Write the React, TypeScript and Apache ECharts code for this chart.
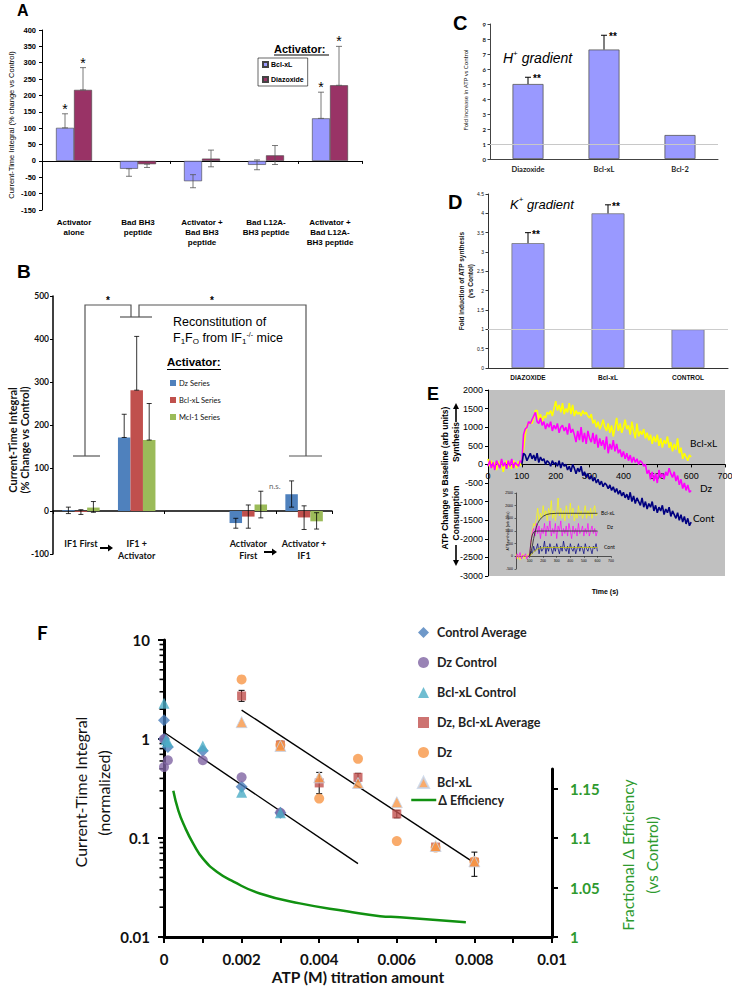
import React, { useEffect, useRef } from "react";
import * as echarts from "echarts";

const ARIAL = "'Liberation Sans', Arial, sans-serif";
const CALI = "Lato, 'Open Sans', sans-serif";

// ---------------- Panel A ----------------
const aCategories = ["Activator\nalone", "Bad BH3\npeptide", "Activator +\nBad BH3\npeptide", "Bad L12A-\nBH3 peptide", "Activator +\nBad L12A-\nBH3 peptide"];
const aBclxl = [101, -24, -62, -12, 130];
const aBclxlLow = [101, -47, -82, -27, 130];
const aBclxlHigh = [144, -24, -42, 3, 210];
const aBclxlStar = ["*", "", "", "", "*"];
const aDiazoxide = [217, -10, 7, 17, 231];
const aDiazoxideLow = [217, -20, -18, -11, 231];
const aDiazoxideHigh = [285, -10, 33, 47, 350];
const aDiazoxideStar = ["*", "", "", "", "*"];
const aYTicks = { min: -150, max: 400, interval: 50 };

// ---------------- Panel B ----------------
const bCategories = ["IF1 First", "IF1 +\nActivator", "", "Activator\nFirst", "Activator +\nIF1"];
const bDz = [2, 171, null, -28, 39];
const bDzLow = [-6, 171, null, -40, 9];
const bDzHigh = [9, 225, null, -17, 70];
const bBcl = [-2, 281, null, -13, -15];
const bBclLow = [-8, 281, null, -40, -43];
const bBclHigh = [3, 406, null, 14, 12];
const bMcl = [8, 165, null, 15, -24];
const bMclLow = [-3, 165, null, -16, -42];
const bMclHigh = [22, 250, null, 46, -4];

// ---------------- Panel C ----------------
const cCategories = ["Diazoxide", "Bcl-xL", "Bcl-2"];
const cValues = [5.0, 7.3, 1.6];
const cHigh = [5.45, 8.25, 1.6];
const cStars = ["**", "**", ""];

// ---------------- Panel D ----------------
const dCategories = ["DIAZOXIDE", "Bcl-xL", "CONTROL"];
const dValues = [3.23, 4.0, 1.0];
const dHigh = [3.5, 4.22, 1.0];
const dStars = ["**", "**", ""];

// ---------------- Panel E ----------------
const eYRange = { min: -3000, max: 2000, interval: 500 };
const eInsetYRange = { min: -500, max: 2500, interval: 500 };
const eTimes = Array.from({ length: 121 }, (_, i) => i * 5);
const eContTimes = eTimes.slice(20);
const eBclxl = [
  150, -50, 100, -100, 50, -150, 80, -50, 120, -200, 0, 100, -80, 50, -120, 100, 30, -100, 80, -30, 50,
  400, 800, 1050, 1100, 1150, 1100, 1250, 1450, 1450, 1200, 1350, 1150, 1300, 1250, 1400, 1350, 1450, 1300, 1500, 1700,
  1450, 1600, 1400, 1650, 1350, 1500, 1400, 1650, 1350, 1600, 1300, 1450, 1350, 1400, 1300, 1450, 1350, 1400, 1300, 1250,
  1350, 1100, 1200, 1000, 1150, 950, 1050, 1200, 1000, 900, 1100, 850, 1050, 750, 1000, 1250, 900, 1100, 850, 1000,
  1200, 950, 1050, 800, 1150, 900, 700, 1100, 750, 900, 800, 950, 700, 850, 650, 800, 550, 750, 600, 800,
  500, 700, 450, 650, 550, 750, 450, 600, 350, 550, 400, 700, 300, 450, 150, 300, 200, 100, 250, 200,
];
const eDz = [
  -50, 100, -100, 50, -150, 100, 0, -100, 150, -50, 50, -120, 100, -50, 150, -100, 50, 0, -50, 100, 50,
  800, 950, 1000, 1150, 1100, 1200, 1300, 1400, 1150, 1100, 1250, 1050, 1150, 950, 1100, 1000, 1150, 900, 1050, 950,
  1100, 850, 1000, 1050, 900, 1000, 800, 1100, 850, 950, 800, 600, 900, 650, 1000, 600, 850, 550, 900, 700,
  600, 850, 550, 800, 450, 700, 500, 650, 400, 750, 300, 550, 400, 650, 350, 550, 300, 400, 200, 350,
  150, 300, 100, 250, 50, 200, 50, 150, 0, 100, 50, -50, 0, -250, -150, -400, -200, -450, -250, -500,
  -150, -350, -250, -400, -200, -300, -100, -250, -350, -200, -450, -300, -550, -400, -650, -500, -700, -550, -750, -700,
];
const eCont = [
  0, 300, 250, 100, 200, 300, 150, 250, 100, 300, 50, 200, 100, 150, 0, 100, 50, -50, 100, 0, 50,
  -50, 100, -100, 50, -50, 0, -150, -50, -200, 0, -100, -250, -100, -200, -50, -300, -200, -350, -250, -400,
  -300, -450, -350, -500, -400, -550, -450, -600, -500, -550, -650, -550, -700, -600, -750, -650, -800, -700, -850, -750,
  -900, -800, -950, -750, -1000, -850, -1050, -900, -1000, -1100, -900, -1150, -1000, -1200, -1050, -1150, -1000, -1250, -1100, -1300,
  -1150, -1250, -1100, -1350, -1200, -1300, -1150, -1400, -1250, -1350, -1450, -1300, -1500, -1350, -1550, -1400, -1600, -1450, -1650, -1550,
];
// inset
const iTimes = Array.from({ length: 61 }, (_, i) => i * 10);
const iContTimes = iTimes.slice(10);
const iBclxl = [
  100, -100, 50, -150, 0, 100, -100, 50, -50, 100, 0,
  500, 1000, 1300, 1200, 1500, 1900, 1400, 1700, 1500, 2000,
  1600, 1800, 1400, 1900, 1600, 2200, 1500, 1800, 1400, 1700,
  2300, 1600, 1900, 1500, 1800, 1400, 2000, 1700, 1500, 2100,
  1600, 1900, 1400, 1700, 1500, 2000, 1600, 1800, 1500, 1700,
  2000, 1500, 1800, 1600, 1900, 1500, 1800, 2000, 1600, 1700,
];
const iDz = [
  -100, 100, -50, 150, -100, 50, 0, 100, -100, 50, 0,
  600, 900, 1100, 800, 1300, 900, 1200, 700, 1100, 900,
  1300, 800, 1200, 1000, 1400, 800, 1100, 900, 1300, 700,
  1200, 1000, 1400, 800, 1100, 900, 1200, 800, 1300, 1000,
  700, 1200, 900, 1100, 800, 1300, 900, 1000, 1200, 800,
  1100, 900, 1300, 800, 1000, 1200, 900, 1100, 800, 1000,
];
const iCont = [
  0,
  200, 100, 400, 200, 300, 500, 100, 400, 200, 300,
  600, 100, 400, 200, 500, 300, 100, 400, 200, 500,
  300, 100, 400, 200, 600, 300, 200, 400, 100, 500,
  300, 200, 400, 100, 300, 500, 200, 400, 300, 100,
  500, 300, 200, 400, 300, 100, 400, 300, 500, 200,
];
const iFitBclX = [100, 110, 120, 130, 140, 150, 160, 175, 200, 225, 250, 300, 400, 600];
const iFitBclY = [0, 150, 400, 700, 950, 1150, 1300, 1450, 1580, 1650, 1680, 1700, 1700, 1700];
const iFitDzX = [100, 105, 110, 115, 120, 130, 140, 150, 175, 600];
const iFitDzY = [0, 300, 550, 720, 840, 950, 985, 995, 1000, 1000];
const iFitContX = [100, 120, 140, 160, 180, 200, 250, 600];
const iFitContY = [0, 120, 220, 290, 330, 345, 350, 350];

// ---------------- Panel F ----------------
const fCtrlAvgX = [0, 0, 0.0001, 0.001, 0.002, 0.003];
const fCtrlAvgY = [1.55, 1.0, 0.83, 0.76, 0.33, 0.18];
const fDzCtrlX = [0, 0, 0.0001, 0.001, 0.002, 0.003];
const fDzCtrlY = [1.0, 0.52, 0.61, 0.61, 0.41, 0.18];
const fBclCtrlX = [0, 0.00005, 0.0001, 0.001, 0.002, 0.003];
const fBclCtrlY = [2.3, 0.98, 0.93, 0.85, 0.29, 0.18];
const fTreatX = [0.002, 0.003, 0.004, 0.005, 0.006, 0.007, 0.008];
const fAvgY = [2.72, 0.87, 0.36, 0.41, 0.175, 0.081, 0.057];
const fAvgLow = [2.4, 0.8, 0.28, 0.37, 0.16, 0.078, 0.041];
const fAvgHigh = [3.1, 0.95, 0.46, 0.45, 0.19, 0.085, 0.072];
const fDzY = [4.0, 0.87, 0.25, 0.63, 0.093, 0.08, 0.058];
const fBclY = [1.48, 0.85, 0.41, 0.36, 0.23, 0.083, 0.058];
const fFit1X = [0, 0.005];
const fFit1Y = [1.17, 0.055];
const fFit2X = [0.002, 0.008];
const fFit2Y = [1.96, 0.056];
const fEffX = [0.00024, 0.00037, 0.00054, 0.00076, 0.00101, 0.00136, 0.00179, 0.00247, 0.0035, 0.00471, 0.00557, 0.00608, 0.00778];
const fEffY = [1.148, 1.128, 1.111, 1.094, 1.079, 1.066, 1.056, 1.044, 1.034, 1.026, 1.021, 1.02, 1.015];
const fRightTicks = [1, 1.05, 1.1, 1.15];
const fMinorTicks = [0.02, 0.03, 0.04, 0.05, 0.06, 0.07, 0.08, 0.09, 0.2, 0.3, 0.4, 0.5, 0.6, 0.7, 0.8, 0.9, 2, 3, 4, 5, 6, 7, 8, 9];
const fLegendLabels: Record<string, string> = {
  fCtrlAvg: "Control Average",
  fDzCtrl: "Dz Control",
  fBclCtrl: "Bcl-xL Control",
  fAvg: "Dz, Bcl-xL Average",
  fDz: "Dz",
  fBcl: "Bcl-xL",
  fEff: "Δ Efficiency",
};

const pairs = (xs: number[], ys: number[]) => xs.map((x, i) => [x, ys[i]]);

function errorSeries(o: any) {
  return {
    type: "custom",
    xAxisIndex: o.x,
    yAxisIndex: o.y,
    silent: true,
    z: 5,
    clip: false,
    encode: { x: 0, y: 2 },
    data: o.rows,
    renderItem: (params: any, api: any) => {
      const cat = api.value(0);
      const si = api.value(1);
      const v = api.value(2);
      const lo = api.value(3);
      const hi = api.value(4);
      const base = api.coord([cat, v]);
      const x = base[0] + o.offsets[si];
      const yLo = api.coord([cat, lo])[1];
      const yHi = api.coord([cat, hi])[1];
      const st = { stroke: o.color, lineWidth: o.width };
      const ch: any[] = [];
      if (hi !== lo) {
        ch.push({ type: "line", shape: { x1: x, y1: yLo, x2: x, y2: yHi }, style: st });
        ch.push({ type: "line", shape: { x1: x - o.cap, y1: yHi, x2: x + o.cap, y2: yHi }, style: st });
        if (o.capLow) ch.push({ type: "line", shape: { x1: x - o.cap, y1: yLo, x2: x + o.cap, y2: yLo }, style: st });
      }
      const s = o.stars ? o.stars[params.dataIndex] : "";
      if (s) {
        ch.push({
          type: "text",
          x: x + o.starDx,
          y: yHi + o.starDy,
          style: { text: s, fill: "#000", ...o.starStyle },
        });
      }
      return { type: "group", children: ch };
    },
  };
}

function T(x: number, y: number, text: string, s: any = {}, rot = 0) {
  return {
    type: "text",
    x,
    y,
    rotation: rot,
    silent: true,
    style: {
      text,
      fill: s.fill || "#000",
      fontSize: s.fontSize || 10,
      fontFamily: s.fontFamily || ARIAL,
      fontWeight: s.fontWeight || "normal",
      fontStyle: s.fontStyle || "normal",
      align: s.align || "left",
      textAlign: s.align || "left",
      verticalAlign: "middle",
      textVerticalAlign: "middle",
    },
  };
}
function L(pts: number[][], color = "#000", w = 1) {
  return { type: "polyline", silent: true, shape: { points: pts }, style: { stroke: color, lineWidth: w, fill: null } };
}
function arrowH(x1: number, x2: number, y: number) {
  return [
    L([[x1, y], [x2 - 4, y]], "#000", 2),
    { type: "polygon", silent: true, shape: { points: [[x2 - 5, y - 3.5], [x2, y], [x2 - 5, y + 3.5]] }, style: { fill: "#000" } },
  ];
}
function arrowV(x: number, y1: number, y2: number) {
  const dir = y2 > y1 ? 1 : -1;
  return [
    L([[x, y1], [x, y2 - dir * 4]], "#000", 1.6),
    { type: "polygon", silent: true, shape: { points: [[x - 3, y2 - dir * 6], [x, y2], [x + 3, y2 - dir * 6]] }, style: { fill: "#000" } },
  ];
}

function buildOption() {
  const NB = { outerBoundsMode: "none", containLabel: false };
  // E grid geometry and its zero level (derived from the axis range)
  const eG = { left: 488, top: 390, width: 237, height: 186 };
  const eZeroY = eG.top + (eG.height * eYRange.max) / (eYRange.max - eYRange.min);
  const iG = { left: 516, top: 493, width: 95, height: 76 };
  const iZeroY = iG.top + (iG.height * eInsetYRange.max) / (eInsetYRange.max - eInsetYRange.min);
  const grid = [
    { left: 42, top: 30, width: 320, height: 180, ...NB },
    { left: 53, top: 296, width: 279, height: 258, ...NB },
    { left: 53, top: 530, width: 279, height: 4, ...NB },
    { left: 490, top: 24, width: 228, height: 135, ...NB },
    { left: 488, top: 194, width: 240, height: 174, ...NB },
    { ...eG, show: true, backgroundColor: "#C0C0C0", borderWidth: 0, borderColor: "transparent", ...NB },
    { ...iG, ...NB },
    { left: 164, top: 640, width: 388, height: 297, ...NB },
    { left: 164, top: 769, width: 388, height: 168, ...NB },
    // 9: E zero-line axis strip, 10: inset zero-line axis strip
    { left: eG.left, top: eZeroY - 10, width: eG.width, height: 10, ...NB },
    { left: iG.left, top: iZeroY - 5, width: iG.width, height: 5, ...NB },
  ];
  const noSplit = { splitLine: { show: false } };
  const xAxis: any[] = [
    { gridIndex: 0, type: "category", data: aCategories, position: "bottom", axisLine: { onZero: true, lineStyle: { color: "#000", width: 1 } }, axisTick: { show: true, length: 3, lineStyle: { color: "#000" } }, axisLabel: { show: false }, ...noSplit },
    { gridIndex: 0, type: "category", data: aCategories, position: "bottom", axisLine: { show: false, onZero: false }, axisTick: { show: false }, axisLabel: { interval: 0, fontSize: 8, fontWeight: "bold", fontFamily: ARIAL, color: "#000", lineHeight: 10, margin: 7 }, ...noSplit },
    { gridIndex: 1, type: "category", data: bCategories, position: "bottom", axisLine: { onZero: true, lineStyle: { color: "#000", width: 1.5 } }, axisTick: { show: true, length: 3, lineStyle: { color: "#000" } }, axisLabel: { show: false }, ...noSplit },
    { gridIndex: 2, type: "category", data: bCategories, position: "bottom", axisLine: { show: false, onZero: false }, axisTick: { show: false }, axisLabel: { interval: 0, fontSize: 9, fontWeight: "bold", fontFamily: CALI, color: "#111", lineHeight: 12, margin: 3 }, ...noSplit },
    { gridIndex: 3, type: "category", data: cCategories, axisLine: { lineStyle: { color: "#444", width: 1 } }, axisTick: { length: 3, lineStyle: { color: "#444" } }, axisLabel: { interval: 0, fontSize: 7.5, fontWeight: "bold", fontFamily: CALI, color: "#222", margin: 6 }, ...noSplit },
    { gridIndex: 4, type: "category", data: dCategories, axisLine: { lineStyle: { color: "#333", width: 1 } }, axisTick: { length: 3, lineStyle: { color: "#333" } }, axisLabel: { interval: 0, fontSize: 6.5, fontWeight: "bold", fontFamily: ARIAL, color: "#111", margin: 6 }, ...noSplit },
    // 6: E data x axis (hidden)
    { gridIndex: 5, type: "value", min: 0, max: 700, interval: 100, show: false, axisLine: { onZero: false }, ...noSplit },
    // 7: inset data x axis (hidden)
    { gridIndex: 6, type: "value", min: 0, max: 700, interval: 100, show: false, axisLine: { onZero: false }, ...noSplit },
    { gridIndex: 7, type: "value", min: 0, max: 0.01, interval: 0.002, axisLine: { onZero: false, lineStyle: { color: "#000", width: 3 } }, axisTick: { length: 6, lineStyle: { color: "#000", width: 2 } }, minorTick: { show: true, splitNumber: 2, length: 6, lineStyle: { color: "#000", width: 2 } }, axisLabel: { fontSize: 15, fontWeight: "bold", fontFamily: CALI, color: "#111", margin: 14, formatter: (v: number) => String(+v.toFixed(4)) }, ...noSplit, minorSplitLine: { show: false } },
    { gridIndex: 8, type: "value", min: 0, max: 0.01, show: false, axisLine: { onZero: false }, ...noSplit },
    // 10: E zero-line axis with labels
    { gridIndex: 9, type: "value", min: 0, max: 700, interval: 100, position: "bottom", axisLine: { onZero: false, lineStyle: { color: "#000", width: 1.2 } }, axisTick: { length: 3, lineStyle: { color: "#000" } }, axisLabel: { fontSize: 9, fontFamily: ARIAL, color: "#000", margin: 7, formatter: (v: number) => String(v) }, ...noSplit },
    // 11: inset zero-line axis with labels
    { gridIndex: 10, type: "value", min: 0, max: 700, interval: 100, position: "bottom", axisLine: { onZero: false, lineStyle: { color: "#000", width: 0.6 } }, axisTick: { length: 1.5, lineStyle: { color: "#000", width: 0.5 } }, axisLabel: { fontSize: 3.5, fontFamily: ARIAL, color: "#000", margin: 3, formatter: (v: number) => (v === 0 ? "" : String(v)) }, ...noSplit },
  ];
  const yAxis: any[] = [
    { gridIndex: 0, type: "value", ...aYTicks, axisLine: { show: true, onZero: false, lineStyle: { color: "#000", width: 1 } }, axisTick: { show: true, length: 3, lineStyle: { color: "#000" } }, axisLabel: { fontSize: 7.5, fontWeight: "bold", fontFamily: ARIAL, color: "#000", margin: 6 }, ...noSplit },
    { gridIndex: 1, type: "value", min: -100, max: 500, interval: 100, axisLine: { show: true, onZero: false, lineStyle: { color: "#000", width: 1.5 } }, axisTick: { show: true, length: 3, lineStyle: { color: "#000" } }, axisLabel: { fontSize: 8.5, fontWeight: "bold", fontFamily: CALI, color: "#111", margin: 4 }, ...noSplit },
    { gridIndex: 2, type: "value", min: 0, max: 1, show: false, axisLine: { onZero: false }, ...noSplit },
    { gridIndex: 3, type: "value", min: 0, max: 9, interval: 1, axisLine: { show: true, onZero: false, lineStyle: { color: "#444" } }, axisTick: { show: true, length: 2.5, lineStyle: { color: "#444" } }, axisLabel: { fontSize: 6, fontWeight: "bold", fontFamily: CALI, color: "#222", margin: 4 }, ...noSplit },
    { gridIndex: 4, type: "value", min: 0, max: 4.5, interval: 0.5, axisLine: { show: true, onZero: false, lineStyle: { color: "#333" } }, axisTick: { show: true, length: 2.5, lineStyle: { color: "#333" } }, axisLabel: { fontSize: 5, fontFamily: ARIAL, color: "#111", margin: 4 }, ...noSplit },
    { gridIndex: 5, type: "value", ...eYRange, axisLine: { show: true, onZero: false, lineStyle: { color: "#000", width: 1 } }, axisTick: { show: true, length: 3, lineStyle: { color: "#000" } }, axisLabel: { fontSize: 9, fontFamily: ARIAL, color: "#000", margin: 5, formatter: (v: number) => String(v) }, ...noSplit },
    { gridIndex: 6, type: "value", ...eInsetYRange, axisLine: { show: true, onZero: false, lineStyle: { color: "#000", width: 0.6 } }, axisTick: { show: true, length: 1.5, lineStyle: { color: "#000", width: 0.5 } }, axisLabel: { fontSize: 3.5, fontFamily: ARIAL, color: "#000", margin: 3, formatter: (v: number) => String(v) }, ...noSplit },
    { gridIndex: 7, type: "log", logBase: 10, min: 0.01, max: 10, axisLine: { show: true, onZero: false, lineStyle: { color: "#000", width: 3 } }, axisTick: { show: true, length: 6, lineStyle: { color: "#000", width: 2 } }, axisLabel: { fontSize: 15, fontWeight: "bold", fontFamily: CALI, color: "#111", margin: 14, formatter: (v: number) => String(+(+v).toPrecision(3)) }, ...noSplit, minorTick: { show: false } },
    { gridIndex: 8, type: "value", position: "right", min: 1, max: 1.17, interval: 0.05, axisLine: { show: true, onZero: false, lineStyle: { color: "#000", width: 3 } }, axisTick: { show: true, length: 6, customValues: fRightTicks, lineStyle: { color: "#000", width: 2 } }, axisLabel: { fontSize: 15, fontWeight: "bold", fontFamily: CALI, color: "#2E9A2E", margin: 18, customValues: fRightTicks, formatter: (v: number) => String(+(+v).toFixed(2)) }, ...noSplit },
    { gridIndex: 9, type: "value", min: 0, max: 1, show: false, axisLine: { onZero: false }, ...noSplit },
    { gridIndex: 10, type: "value", min: 0, max: 1, show: false, axisLine: { onZero: false }, ...noSplit },
  ];

  const aRows: number[][] = [];
  const aStarList: string[] = [];
  aCategories.forEach((_, i) => {
    aRows.push([i, 0, aBclxl[i], aBclxlLow[i], aBclxlHigh[i]]);
    aStarList.push(aBclxlStar[i]);
    aRows.push([i, 1, aDiazoxide[i], aDiazoxideLow[i], aDiazoxideHigh[i]]);
    aStarList.push(aDiazoxideStar[i]);
  });
  const bRows: number[][] = [];
  bCategories.forEach((_, i) => {
    if (bDz[i] !== null) bRows.push([i, 0, bDz[i] as number, bDzLow[i] as number, bDzHigh[i] as number]);
    if (bBcl[i] !== null) bRows.push([i, 1, bBcl[i] as number, bBclLow[i] as number, bBclHigh[i] as number]);
    if (bMcl[i] !== null) bRows.push([i, 2, bMcl[i] as number, bMclLow[i] as number, bMclHigh[i] as number]);
  });
  const cRows = cCategories.map((_, i) => [i, 0, cValues[i], cValues[i], cHigh[i]]);
  const dRows = dCategories.map((_, i) => [i, 0, dValues[i], dValues[i], dHigh[i]]);
  const fRows = fTreatX.map((x, i) => [x, 0, fAvgY[i], fAvgLow[i], fAvgHigh[i]]);

  const barMark = (axisColor: string) => ({
    silent: true,
    symbol: "none",
    label: { show: false },
    lineStyle: { color: axisColor, type: "solid", width: 1 },
    data: [{ yAxis: 1 }],
  });

  const eLine = (name: string, xs: number[], ys: number[], color: string, w: number, xi: number, yi: number) => ({
    type: "line",
    name,
    xAxisIndex: xi,
    yAxisIndex: yi,
    data: pairs(xs, ys),
    symbol: "none",
    silent: true,
    lineStyle: { color, width: w },
    itemStyle: { color },
    z: 3,
  });

  const series: any[] = [
    { type: "bar", name: "Bcl-xL", xAxisIndex: 0, yAxisIndex: 0, data: aBclxl, barWidth: 18, barGap: "0%", itemStyle: { color: "#9999FF", borderColor: "#444", borderWidth: 0.6 } },
    { type: "bar", name: "Diazoxide", xAxisIndex: 0, yAxisIndex: 0, data: aDiazoxide, barWidth: 18, barGap: "0%", itemStyle: { color: "#993366", borderColor: "#444", borderWidth: 0.6 } },
    errorSeries({ x: 0, y: 0, rows: aRows, offsets: [-9, 9], cap: 3, color: "#555", width: 0.8, capLow: true, stars: aStarList, starDx: 0, starDy: -5, starStyle: { fontSize: 14, fontFamily: ARIAL, align: "center", textAlign: "center", verticalAlign: "middle", textVerticalAlign: "middle" } }),
    { type: "bar", name: "Dz Series", xAxisIndex: 2, yAxisIndex: 1, data: bDz, barWidth: 12.5, barGap: "0%", itemStyle: { color: "#4F81BD" } },
    { type: "bar", name: "Bcl-xL Series", xAxisIndex: 2, yAxisIndex: 1, data: bBcl, barWidth: 12.5, barGap: "0%", itemStyle: { color: "#C0504D" } },
    { type: "bar", name: "Mcl-1 Series", xAxisIndex: 2, yAxisIndex: 1, data: bMcl, barWidth: 12.5, barGap: "0%", itemStyle: { color: "#9BBB59" } },
    errorSeries({ x: 2, y: 1, rows: bRows, offsets: [-12.5, 0, 12.5], cap: 2.5, color: "#000", width: 0.8, capLow: true }),
    { type: "bar", name: "C", xAxisIndex: 4, yAxisIndex: 3, data: cValues, barWidth: 31, itemStyle: { color: "#9999FF", borderColor: "#555", borderWidth: 0.8 }, markLine: barMark("#C8C8C8"), z: 2 },
    errorSeries({ x: 4, y: 3, rows: cRows, offsets: [0], cap: 3, color: "#000", width: 1, capLow: false, stars: cStars, starDx: 5, starDy: 1.5, starStyle: { fontSize: 10, fontWeight: "bold", fontFamily: ARIAL, align: "left", textAlign: "left", verticalAlign: "middle", textVerticalAlign: "middle" } }),
    { type: "bar", name: "D", xAxisIndex: 5, yAxisIndex: 4, data: dValues, barWidth: 33, itemStyle: { color: "#9999FF", borderColor: "#777", borderWidth: 0.8 }, markLine: barMark("#CCCCCC"), z: 2 },
    errorSeries({ x: 5, y: 4, rows: dRows, offsets: [0], cap: 3, color: "#000", width: 1, capLow: false, stars: dStars, starDx: 4, starDy: 2, starStyle: { fontSize: 10, fontWeight: "bold", fontFamily: ARIAL, align: "left", textAlign: "left", verticalAlign: "middle", textVerticalAlign: "middle" } }),
    eLine("E Bcl-xL", eTimes, eBclxl, "#FFFF00", 1.6, 6, 5),
    eLine("E Dz", eTimes, eDz, "#FF00FF", 1.6, 6, 5),
    eLine("E Cont", eContTimes, eCont, "#000080", 1.6, 6, 5),
    eLine("I Bcl-xL", iTimes, iBclxl, "#FFFF00", 0.7, 7, 6),
    eLine("I Dz", iTimes, iDz, "#FF00FF", 0.7, 7, 6),
    eLine("I Cont", iContTimes, iCont, "#000080", 0.7, 7, 6),
    eLine("I fit Bcl-xL", iFitBclX, iFitBclY, "#222222", 0.8, 7, 6),
    eLine("I fit Dz", iFitDzX, iFitDzY, "#222222", 0.8, 7, 6),
    eLine("I fit Cont", iFitContX, iFitContY, "#C8C800", 0.8, 7, 6),
    { type: "line", name: "fit1", xAxisIndex: 8, yAxisIndex: 7, data: pairs(fFit1X, fFit1Y), symbol: "none", silent: true, lineStyle: { color: "#000", width: 1.4 }, z: 2 },
    { type: "line", name: "fit2", xAxisIndex: 8, yAxisIndex: 7, data: pairs(fFit2X, fFit2Y), symbol: "none", silent: true, lineStyle: { color: "#000", width: 1.4 }, z: 2 },
    { type: "scatter", name: "fCtrlAvg", xAxisIndex: 8, yAxisIndex: 7, data: pairs(fCtrlAvgX, fCtrlAvgY), symbol: "diamond", symbolSize: 12, itemStyle: { color: "#4A7EBB" }, z: 3 },
    { type: "scatter", name: "fDzCtrl", xAxisIndex: 8, yAxisIndex: 7, data: pairs(fDzCtrlX, fDzCtrlY), symbol: "circle", symbolSize: 10, itemStyle: { color: "#8064A2" }, z: 3 },
    { type: "scatter", name: "fBclCtrl", xAxisIndex: 8, yAxisIndex: 7, data: pairs(fBclCtrlX, fBclCtrlY), symbol: "triangle", symbolSize: 11, itemStyle: { color: "#4BACC6" }, z: 4 },
    errorSeries({ x: 8, y: 7, rows: fRows, offsets: [0], cap: 3, color: "#000", width: 1, capLow: true }),
    { type: "scatter", name: "fAvg", xAxisIndex: 8, yAxisIndex: 7, data: pairs(fTreatX, fAvgY), symbol: "rect", symbolSize: 9, itemStyle: { color: "#C0504D" }, z: 6 },
    { type: "scatter", name: "fDz", xAxisIndex: 8, yAxisIndex: 7, data: pairs(fTreatX, fDzY), symbol: "circle", symbolSize: 10, itemStyle: { color: "#F79646" }, z: 6 },
    { type: "scatter", name: "fBcl", xAxisIndex: 8, yAxisIndex: 7, data: pairs(fTreatX, fBclY), symbol: "triangle", symbolSize: 11, itemStyle: { color: "#F79646", borderColor: "#C6D3E8", borderWidth: 1 }, z: 6 },
    { type: "line", name: "fEff", xAxisIndex: 9, yAxisIndex: 8, data: pairs(fEffX, fEffY), smooth: true, symbol: "none", showSymbol: false, lineStyle: { color: "#119111", width: 2.5 }, itemStyle: { color: "#119111" }, z: 2 },
    {
      type: "custom",
      name: "minor",
      xAxisIndex: 8,
      yAxisIndex: 7,
      silent: true,
      clip: false,
      encode: { x: 0, y: 1 },
      data: fMinorTicks.map((v) => [0, v]),
      renderItem: (params: any, api: any) => {
        const p = api.coord([0, api.value(1)]);
        return { type: "line", shape: { x1: p[0] - 4.5, y1: p[1], x2: p[0], y2: p[1] }, style: { stroke: "#000", lineWidth: 1.6 } };
      },
    },
  ];

  const fLegendText = { fontSize: 12.5, fontWeight: "bold", fontFamily: CALI, color: "#222" };
  const legend = [
    {
      data: ["Bcl-xL", "Diazoxide"],
      orient: "vertical",
      left: 258,
      top: 58,
      padding: [3, 4, 3, 4],
      itemWidth: 5,
      itemHeight: 5,
      itemGap: 8,
      borderColor: "#000",
      borderWidth: 0.6,
      selectedMode: false,
      icon: "rect",
      textStyle: { fontSize: 7, fontWeight: "bold", fontFamily: ARIAL, color: "#000", padding: [0, 0, 0, -2] },
    },
    {
      data: ["Dz Series", "Bcl-xL Series", "Mcl-1 Series"],
      orient: "vertical",
      left: 170,
      top: 379,
      padding: 0,
      itemWidth: 6,
      itemHeight: 6,
      itemGap: 9,
      selectedMode: false,
      icon: "rect",
      textStyle: { fontSize: 7.5, fontFamily: CALI, color: "#111", padding: [0, 0, 0, -2] },
    },
    {
      data: [
        { name: "fCtrlAvg", icon: "diamond" },
        { name: "fDzCtrl", icon: "circle" },
        { name: "fBclCtrl", icon: "triangle" },
        { name: "fAvg", icon: "rect" },
        { name: "fDz", icon: "circle" },
        { name: "fBcl", icon: "triangle" },
      ],
      formatter: (n: string) => fLegendLabels[n] || n,
      orient: "vertical",
      left: 417,
      top: 626,
      padding: 0,
      itemWidth: 11,
      itemHeight: 11,
      itemGap: 17,
      selectedMode: false,
      textStyle: { ...fLegendText, padding: [0, 0, 0, 3] },
    },
    {
      data: [{ name: "fEff" }],
      formatter: (n: string) => fLegendLabels[n] || n,
      orient: "vertical",
      left: 410,
      top: 793.5,
      padding: 0,
      itemWidth: 25,
      itemHeight: 11,
      selectedMode: false,
      itemStyle: { opacity: 0 },
      lineStyle: { color: "#119111", width: 2.5 },
      textStyle: { ...fLegendText, padding: [0, 0, 0, -3] },
    },
  ];

  const green = "#2E9A2E";
  const elements: any[] = [
    T(17, 10.5, "A", { fontSize: 16, fontWeight: "bold" }),
    T(17, 271, "B", { fontSize: 19, fontWeight: "bold" }),
    T(453, 22.5, "C", { fontSize: 20, fontWeight: "bold" }),
    T(448, 202, "D", { fontSize: 20, fontWeight: "bold" }),
    T(427, 393.5, "E", { fontSize: 18, fontWeight: "bold" }),
    T(37, 632, "F", { fontSize: 19, fontWeight: "bold", fontFamily: CALI }),
    T(11, 125, "Current-Time Integral (% change vs Control)", { fontSize: 7.5, align: "center" }, Math.PI / 2),
    T(274, 48.5, "Activator:", { fontSize: 11, fontWeight: "bold" }),
    L([[274, 55], [329, 55]], "#000", 1),
    T(12, 440, "Current-Time Integral", { fontSize: 11, fontWeight: "bold", fontFamily: CALI, align: "center", fill: "#111" }, Math.PI / 2),
    T(24, 440, "(% Change vs Control)", { fontSize: 11, fontWeight: "bold", fontFamily: CALI, align: "center", fill: "#111" }, Math.PI / 2),
    L([[73, 456], [100, 456]], "#555", 1.2),
    L([[85, 456], [85, 305], [131, 305], [131, 317]], "#555", 1.2),
    L([[120, 317], [152, 317]], "#555", 1.2),
    L([[139, 317], [139, 305], [306, 305], [306, 456]], "#555", 1.2),
    L([[289, 456], [322, 456]], "#555", 1.2),
    T(108, 300, "*", { fontSize: 10, fontWeight: "bold", align: "center" }),
    T(212, 300, "*", { fontSize: 10, fontWeight: "bold", align: "center" }),
    T(173, 322, "Reconstitution of", { fontSize: 12.5 }),
    {
      type: "text",
      x: 173,
      y: 338,
      silent: true,
      style: {
        text: "{m|F}{s|1}{m|F}{s|O}{m| from IF}{s|1}{p|-/-}{m| mice}",
        align: "left",
        verticalAlign: "middle",
        textAlign: "left",
        textVerticalAlign: "middle",
        rich: {
          m: { fontSize: 12.5, fontFamily: ARIAL, fill: "#000", color: "#000", lineHeight: 14, verticalAlign: "middle" },
          s: { fontSize: 8, fontFamily: ARIAL, fill: "#000", color: "#000", lineHeight: 6, verticalAlign: "bottom" },
          p: { fontSize: 7, fontFamily: ARIAL, fill: "#000", color: "#000", lineHeight: 5, verticalAlign: "top" },
        },
      },
    },
    T(167, 362, "Activator:", { fontSize: 11.5, fontWeight: "bold" }),
    L([[167, 369.5], [221, 369.5]], "#000", 1),
    T(269, 486, "n.s.", { fontSize: 8, fill: "#666", fontFamily: CALI }),
    ...arrowH(100, 113, 548),
    ...arrowH(264, 277, 552),
    T(465, 90, "Fold increase in ATP vs Control", { fontSize: 6, fontFamily: CALI, align: "center", fill: "#222" }, Math.PI / 2),
    {
      type: "text",
      x: 503,
      y: 58,
      silent: true,
      style: {
        text: "{a|H}{b|+}{a| gradient}",
        align: "left",
        verticalAlign: "middle",
        textAlign: "left",
        textVerticalAlign: "middle",
        rich: {
          a: { fontSize: 14, fontStyle: "italic", fontFamily: ARIAL, fill: "#000", color: "#000", lineHeight: 18, verticalAlign: "middle" },
          b: { fontSize: 8, fontFamily: ARIAL, fill: "#000", color: "#000", lineHeight: 9, verticalAlign: "top" },
        },
      },
    },
    T(461, 281, "Fold induction of ATP synthesis", { fontSize: 6.5, fontWeight: "bold", align: "center", fill: "#111" }, Math.PI / 2),
    T(470, 281, "(vs Contol)", { fontSize: 6.5, fontWeight: "bold", align: "center", fill: "#111" }, Math.PI / 2),
    {
      type: "text",
      x: 510,
      y: 204,
      silent: true,
      style: {
        text: "{a|K}{b|+}{a| gradient}",
        align: "left",
        verticalAlign: "middle",
        textAlign: "left",
        textVerticalAlign: "middle",
        rich: {
          a: { fontSize: 13, fontStyle: "italic", fontFamily: ARIAL, fill: "#000", color: "#000", lineHeight: 17, verticalAlign: "middle" },
          b: { fontSize: 8, fontFamily: ARIAL, fill: "#000", color: "#000", lineHeight: 9, verticalAlign: "top" },
        },
      },
    },
    T(445, 478, "ATP Change vs Baseline (arb units)", { fontSize: 8.5, fontWeight: "bold", align: "center" }, Math.PI / 2),
    T(456, 442, "Synthesis", { fontSize: 8.5, fontWeight: "bold", align: "center" }, Math.PI / 2),
    T(456, 513, "Consumption", { fontSize: 8.5, fontWeight: "bold", align: "center" }, Math.PI / 2),
    ...arrowV(456, 422, 403),
    ...arrowV(456, 545, 566),
    T(605, 591, "Time (s)", { fontSize: 7, fontWeight: "bold", align: "center" }),
    T(690, 443, "Bcl-xL", { fontSize: 10, fontFamily: CALI }),
    T(700, 488, "Dz", { fontSize: 10, fontFamily: CALI }),
    T(693, 518, "Cont", { fontSize: 10, fontFamily: CALI }),
    T(508, 531, "ATP synthesis (arb units)", { fontSize: 3.5, align: "center" }, Math.PI / 2),
    T(601, 513, "Bcl-xL", { fontSize: 5, fontFamily: CALI }),
    T(607, 527, "Dz", { fontSize: 5, fontFamily: CALI }),
    T(604, 547, "Cont", { fontSize: 5, fontFamily: CALI }),
    T(80, 792, "Current-Time Integral", { fontSize: 16, fontFamily: CALI, align: "center", fill: "#111" }, Math.PI / 2),
    T(103, 793, "(normalized)", { fontSize: 16, fontFamily: CALI, align: "center", fill: "#111" }, Math.PI / 2),
    T(358, 977, "ATP (M) titration amount", { fontSize: 15.5, fontWeight: "bold", fontFamily: CALI, align: "center", fill: "#111" }),
    T(628, 855, "Fractional Δ Efficiency", { fontSize: 15.5, fontFamily: CALI, align: "center", fill: green }, Math.PI / 2),
    T(652, 855, "(vs Control)", { fontSize: 15.5, fontFamily: CALI, align: "center", fill: green }, Math.PI / 2),
  ];

  return {
    animation: false,
    backgroundColor: "#fff",
    grid,
    xAxis,
    yAxis,
    legend,
    series,
    graphic: { elements },
  };
}

export default function App() {
  const ref = useRef<HTMLDivElement>(null);
  useEffect(() => {
    if (!ref.current) return;
    const chart = echarts.init(ref.current, null, { renderer: "svg" });
    chart.setOption(buildOption() as any);
    return () => chart.dispose();
  }, []);
  return <div ref={ref} style={{ position: "absolute", left: 0, top: 0, width: 732, height: 987, background: "#fff" }} />;
}
